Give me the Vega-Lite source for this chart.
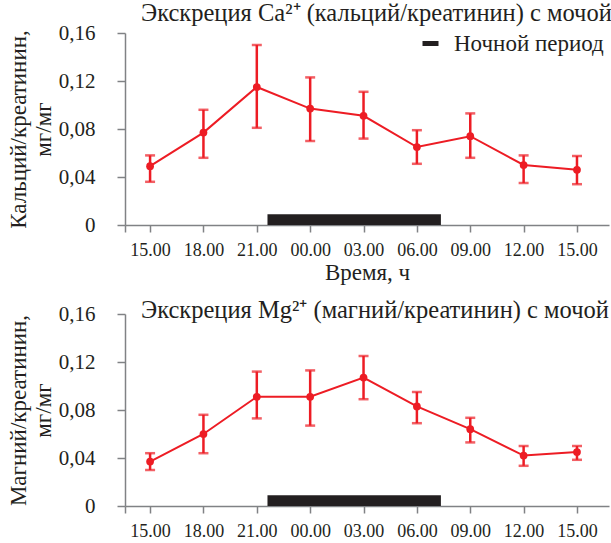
{
  "$schema": "https://vega.github.io/schema/vega-lite/v6.json",
  "autosize": {"type": "pad"},
  "padding": {"left": 7, "top": 0, "right": 0, "bottom": 0},
  "background": "white",
  "config": {
    "font": "Liberation Serif",
    "view": {"stroke": null},
    "axis": {
      "domainColor": "#808285", "tickColor": "#808285", "labelColor": "#231f20", "titleColor": "#231f20",
      "grid": false, "labelFont": "Liberation Serif", "titleFont": "Liberation Serif", "titleFontWeight": "normal",
      "domainWidth": 1.5, "tickWidth": 1.5
    }
  },
  "datasets": {
    "series": [
      {"i": 0, "t": "15.00", "ca": 0.049, "ca_lo": 0.036, "ca_hi": 0.058, "mg": 0.037, "mg_lo": 0.030, "mg_hi": 0.044},
      {"i": 1, "t": "18.00", "ca": 0.077, "ca_lo": 0.056, "ca_hi": 0.096, "mg": 0.060, "mg_lo": 0.044, "mg_hi": 0.076},
      {"i": 2, "t": "21.00", "ca": 0.115, "ca_lo": 0.081, "ca_hi": 0.150, "mg": 0.091, "mg_lo": 0.073, "mg_hi": 0.112},
      {"i": 3, "t": "00.00", "ca": 0.097, "ca_lo": 0.070, "ca_hi": 0.123, "mg": 0.091, "mg_lo": 0.067, "mg_hi": 0.113},
      {"i": 4, "t": "03.00", "ca": 0.091, "ca_lo": 0.072, "ca_hi": 0.111, "mg": 0.107, "mg_lo": 0.089, "mg_hi": 0.125},
      {"i": 5, "t": "06.00", "ca": 0.065, "ca_lo": 0.051, "ca_hi": 0.079, "mg": 0.083, "mg_lo": 0.069, "mg_hi": 0.095},
      {"i": 6, "t": "09.00", "ca": 0.074, "ca_lo": 0.056, "ca_hi": 0.093, "mg": 0.064, "mg_lo": 0.053, "mg_hi": 0.0735},
      {"i": 7, "t": "12.00", "ca": 0.050, "ca_lo": 0.035, "ca_hi": 0.058, "mg": 0.042, "mg_lo": 0.0335, "mg_hi": 0.050},
      {"i": 8, "t": "15.00", "ca": 0.046, "ca_lo": 0.034, "ca_hi": 0.0575, "mg": 0.045, "mg_lo": 0.0385, "mg_hi": 0.050}
    ],
    "night": [{"start": 2.2, "end": 5.45, "lo": 0, "hi": 0.009, "label": "Ночной период"}]
  },
  "spacing": 89,
  "bounds": "flush",
  "vconcat": [
    {
      "width": 484, "height": 192,
      "title": {"text": "Экскреция Ca²⁺ (кальций/креатинин) с мочой", "anchor": "start", "frame": "group", "dx": 16, "offset": -4, "fontSize": 24.5, "fontWeight": "normal", "color": "#231f20", "font": "Liberation Serif"},
      "layer": [
        {
          "data": {"name": "night"},
          "mark": {"type": "rect"},
          "encoding": {
            "x": {"field": "start", "type": "quantitative", "title": "Время, ч", "scale": {"domain": [-0.47, 8.6], "nice": false, "zero": false},
              "axis": {"values": [-0.47, 0, 1, 2, 3, 4, 5, 6, 7, 8],
                "labelExpr": "datum.value < 0 ? '' : ['15.00','18.00','21.00','00.00','03.00','06.00','09.00','12.00','15.00'][datum.value]",
                "tickSize": 7, "labelFontSize": 18, "labelPadding": 9, "titleFontSize": 23, "titlePadding": 2, "labelFlush": false, "labelOverlap": false}},
            "x2": {"field": "end"},
            "y": {"field": "lo", "type": "quantitative", "title": ["Кальций/креатинин,", "мг/мг"], "scale": {"domain": [0, 0.16], "nice": false},
              "axis": {"values": [0, 0.04, 0.08, 0.12, 0.16],
                "labelExpr": "datum.value == 0 ? '0' : replace(format(datum.value, '.2f'), '.', ',')",
                "tickSize": 8, "labelFontSize": 21, "labelPadding": 22, "titleFontSize": 23, "titlePadding": 3, "titleLineHeight": 25}},
            "y2": {"field": "hi"},
            "color": {"field": "label", "type": "nominal", "scale": {"range": ["#231f20"]},
              "legend": {"title": null, "orient": "none", "legendX": 294, "legendY": -1, "padding": 0,
                "symbolType": "M-1,-0.3125H1V0.3125H-1Z", "symbolSize": 256, "symbolStrokeWidth": 0,
                "labelFontSize": 23, "labelOffset": 12, "labelColor": "#231f20", "labelFont": "Liberation Serif", "labelLimit": 300}}
          }
        },
        {
          "data": {"name": "series"},
          "mark": {"type": "errorbar", "color": "#ed1c24", "thickness": 2.5, "ticks": {"size": 10, "thickness": 2.5}},
          "encoding": {
            "x": {"field": "i", "type": "quantitative", "title": "Время, ч"},
            "y": {"field": "ca_lo", "type": "quantitative", "title": ["Кальций/креатинин,", "мг/мг"]},
            "y2": {"field": "ca_hi"}
          }
        },
        {
          "data": {"name": "series"},
          "mark": {"type": "line", "color": "#ed1c24", "strokeWidth": 2, "point": {"filled": true, "size": 60, "color": "#ed1c24"}},
          "encoding": {
            "x": {"field": "i", "type": "quantitative", "title": "Время, ч"},
            "y": {"field": "ca", "type": "quantitative", "title": ["Кальций/креатинин,", "мг/мг"]}
          }
        }
      ]
    },
    {
      "width": 484, "height": 192,
      "title": {"text": "Экскреция Mg²⁺ (магний/креатинин) с мочой", "anchor": "start", "frame": "group", "dx": 16, "offset": -20, "fontSize": 24.5, "fontWeight": "normal", "color": "#231f20", "font": "Liberation Serif"},
      "layer": [
        {
          "data": {"name": "night"},
          "mark": {"type": "rect", "color": "#231f20"},
          "encoding": {
            "x": {"field": "start", "type": "quantitative", "title": null, "scale": {"domain": [-0.47, 8.6], "nice": false, "zero": false},
              "axis": {"values": [-0.47, 0, 1, 2, 3, 4, 5, 6, 7, 8],
                "labelExpr": "datum.value < 0 ? '' : ['15.00','18.00','21.00','00.00','03.00','06.00','09.00','12.00','15.00'][datum.value]",
                "tickSize": 7, "labelFontSize": 18, "labelPadding": 9, "labelFlush": false, "labelOverlap": false}},
            "x2": {"field": "end"},
            "y": {"field": "lo", "type": "quantitative", "title": ["Магний/креатинин,", "мг/мг"], "scale": {"domain": [0, 0.16], "nice": false},
              "axis": {"values": [0, 0.04, 0.08, 0.12, 0.16],
                "labelExpr": "datum.value == 0 ? '0' : replace(format(datum.value, '.2f'), '.', ',')",
                "tickSize": 8, "labelFontSize": 21, "labelPadding": 22, "titleFontSize": 23, "titlePadding": 3, "titleLineHeight": 25}},
            "y2": {"field": "hi"}
          }
        },
        {
          "data": {"name": "series"},
          "mark": {"type": "errorbar", "color": "#ed1c24", "thickness": 2.5, "ticks": {"size": 10, "thickness": 2.5}},
          "encoding": {
            "x": {"field": "i", "type": "quantitative", "title": null},
            "y": {"field": "mg_lo", "type": "quantitative", "title": ["Магний/креатинин,", "мг/мг"]},
            "y2": {"field": "mg_hi"}
          }
        },
        {
          "data": {"name": "series"},
          "mark": {"type": "line", "color": "#ed1c24", "strokeWidth": 2, "point": {"filled": true, "size": 60, "color": "#ed1c24"}},
          "encoding": {
            "x": {"field": "i", "type": "quantitative", "title": null},
            "y": {"field": "mg", "type": "quantitative", "title": ["Магний/креатинин,", "мг/мг"]}
          }
        }
      ]
    }
  ]
}
